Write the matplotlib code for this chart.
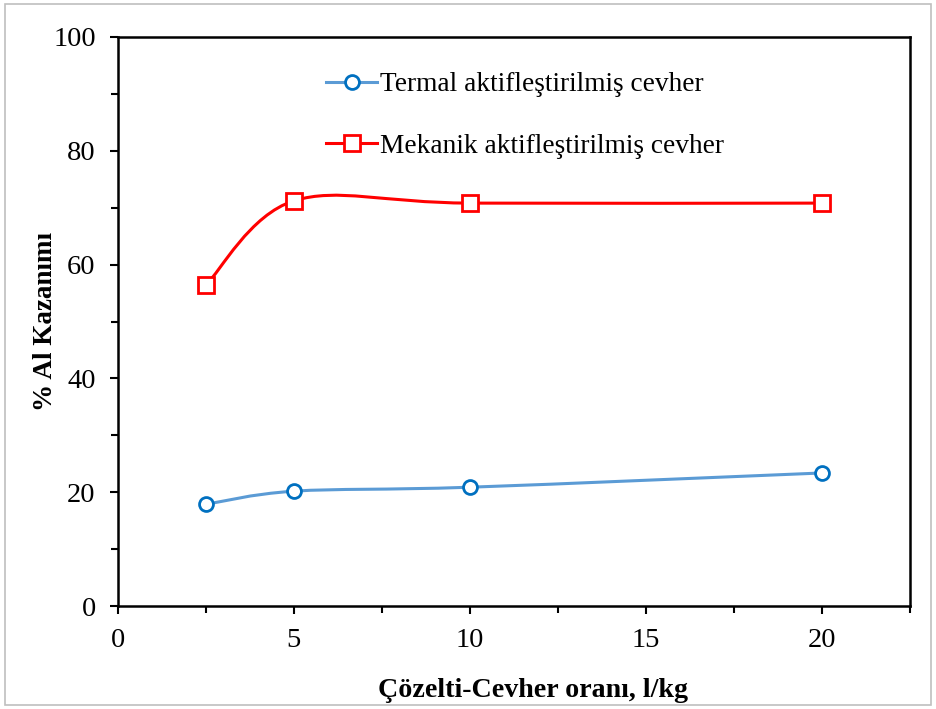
import numpy as np
import matplotlib.pyplot as plt
from matplotlib.path import Path
from matplotlib.patches import PathPatch, Rectangle
from matplotlib.lines import Line2D
from matplotlib.ticker import MultipleLocator

# data
oran = [2.5, 5, 10, 20]
termal = [17.9, 20.2, 20.9, 23.4]
mekanik = [56.4, 71.2, 70.8, 70.8]
etiketler = ["Termal aktifleştirilmiş cevher", "Mekanik aktifleştirilmiş cevher"]

plt.rcParams['font.family'] = ['Liberation Serif', 'DejaVu Serif']


def smooth_path(xs, ys):
    # excel-like smoothed line (catmull-rom -> cubic bezier)
    pts = np.column_stack([xs, ys]).astype(float)
    n = len(pts)
    verts = [pts[0]]
    codes = [Path.MOVETO]
    for i in range(n - 1):
        p0 = pts[max(i - 1, 0)]
        p1 = pts[i]
        p2 = pts[i + 1]
        p3 = pts[min(i + 2, n - 1)]
        c1 = p1 + (p2 - p0) / 6.0
        c2 = p2 - (p3 - p1) / 6.0
        verts += [c1, c2, p2]
        codes += [Path.CURVE4] * 3
    return Path(verts, codes)


fig = plt.figure(figsize=(9.36, 7.09), dpi=100)
ax = fig.add_axes([0.126, 0.145, 0.846, 0.803])

blue_line = '#5B9BD5'
blue_mark = '#0070C0'
red = '#FF0000'

ax.add_patch(PathPatch(smooth_path(oran, termal), fill=False, edgecolor=blue_line, lw=2.2, zorder=2))
ax.add_patch(PathPatch(smooth_path(oran, mekanik), fill=False, edgecolor=red, lw=2.2, zorder=2))
ax.plot(oran, termal, ls='none', marker='o', ms=10, mfc='white', mec=blue_mark, mew=2, zorder=3)
ax.plot(oran, mekanik, ls='none', marker='s', ms=11.5, mfc='white', mec=red, mew=2, zorder=3)

ax.set_xlim(0, 22.5)
ax.set_ylim(0, 100)
ax.xaxis.set_major_locator(MultipleLocator(5))
ax.xaxis.set_minor_locator(MultipleLocator(2.5))
ax.yaxis.set_major_locator(MultipleLocator(20))
ax.yaxis.set_minor_locator(MultipleLocator(10))
ax.tick_params(which='both', direction='out', width=1.5, labelsize=20.5, colors='black')
ax.tick_params(which='major', length=6, pad=10)
ax.tick_params(which='minor', length=5)
for s in ax.spines.values():
    s.set_linewidth(1.8)

ax.set_xlabel('Çözelti-Cevher oranı, l/kg', fontsize=20.2, fontweight='bold')
ax.xaxis.set_label_coords(0.524, -0.126)
ax.set_ylabel('% Al Kazanımı', fontsize=19.5, fontweight='bold')
ax.yaxis.set_label_coords(-0.076, 0.5)

handles = [
    Line2D([], [], color=blue_line, lw=2.2, marker='o', ms=10, mfc='white', mec=blue_mark, mew=2),
    Line2D([], [], color=red, lw=2.2, marker='s', ms=11.5, mfc='white', mec=red, mew=2),
]
ax.legend(handles, etiketler, loc='upper left', bbox_to_anchor=(0.263, 0.938), frameon=False,
          borderaxespad=0, borderpad=0,
          fontsize=19.7, labelspacing=1.33, handlelength=1.85, handletextpad=0.1)

fig.patches.append(Rectangle((0.005, 0.005), 0.99, 0.99, transform=fig.transFigure,
                             fill=False, edgecolor='#BFBFBF', lw=1.2))

fig.savefig('out.png', dpi=100)
